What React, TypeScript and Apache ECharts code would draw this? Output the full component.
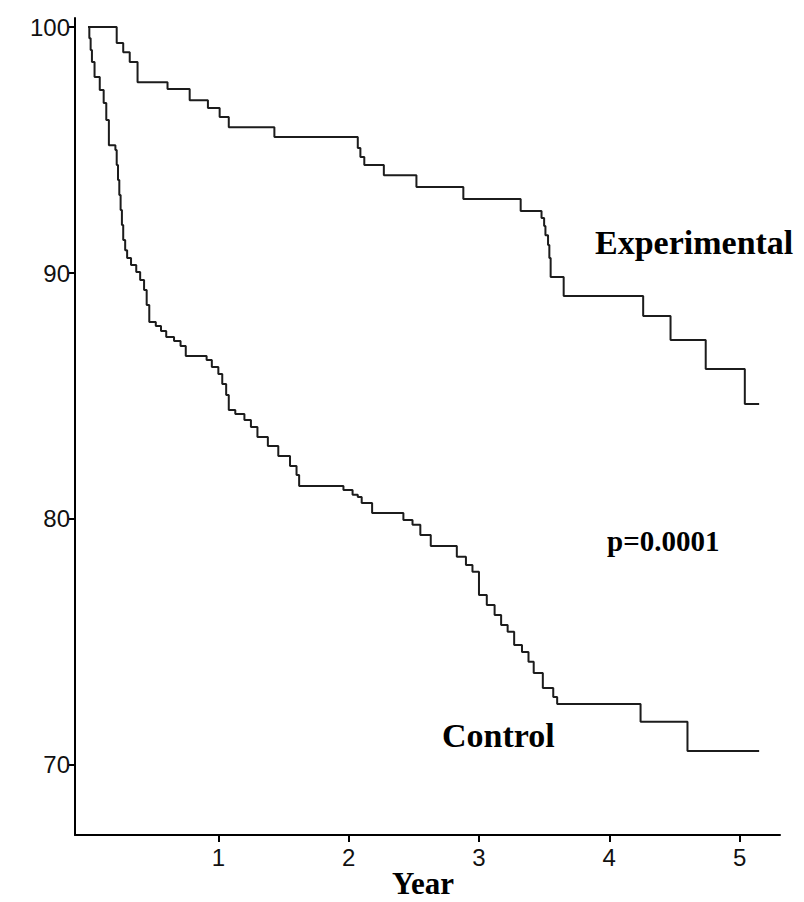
import React, { useEffect, useRef } from "react";
import * as echarts from "echarts";

// Kaplan–Meier estimates (years, % event-free)
const experimentalTimes = [0, 0.22, 0.27, 0.32, 0.38, 0.61, 0.78, 0.92, 1.01, 1.08, 1.43, 2.07, 2.09, 2.12, 2.27, 2.52, 2.88, 3.32, 3.48, 3.5, 3.51, 3.53, 3.54, 3.55, 3.65, 4.26, 4.47, 4.74, 5.04, 5.15];
const experimentalSurvival = [100, 99.35, 98.98, 98.58, 97.76, 97.48, 97.03, 96.71, 96.34, 95.93, 95.53, 95.08, 94.72, 94.39, 93.98, 93.5, 93.01, 92.52, 92.24, 91.91, 91.54, 91.14, 90.61, 89.84, 89.07, 88.25, 87.28, 86.1, 84.67, 84.67];

const controlTimes = [0, 0.01, 0.02, 0.03, 0.05, 0.09, 0.12, 0.14, 0.16, 0.21, 0.22, 0.23, 0.24, 0.25, 0.26, 0.27, 0.285, 0.3, 0.33, 0.37, 0.4, 0.43, 0.45, 0.47, 0.52, 0.56, 0.6, 0.66, 0.71, 0.75, 0.91, 0.95, 1.0, 1.03, 1.06, 1.08, 1.13, 1.2, 1.25, 1.3, 1.38, 1.46, 1.55, 1.6, 1.62, 1.96, 2.03, 2.07, 2.1, 2.18, 2.42, 2.49, 2.55, 2.63, 2.83, 2.9, 2.95, 3.0, 3.06, 3.12, 3.17, 3.22, 3.27, 3.33, 3.38, 3.42, 3.49, 3.57, 3.6, 4.24, 4.6, 5.15];
const controlSurvival = [100, 99.55, 99.07, 98.58, 97.97, 97.44, 96.91, 96.22, 95.2, 95.0, 94.39, 93.78, 93.17, 92.56, 91.95, 91.34, 90.93, 90.61, 90.33, 90.04, 89.72, 89.31, 88.7, 88.01, 87.85, 87.64, 87.4, 87.24, 87.03, 86.63, 86.46, 86.18, 85.89, 85.49, 85.04, 84.43, 84.27, 84.02, 83.74, 83.33, 82.97, 82.56, 82.15, 81.79, 81.34, 81.18, 80.98, 80.89, 80.65, 80.24, 79.96, 79.76, 79.35, 78.9, 78.46, 78.13, 77.85, 76.91, 76.5, 76.1, 75.69, 75.41, 74.88, 74.59, 74.19, 73.74, 73.13, 72.76, 72.48, 71.75, 70.57, 70.57];

const xTicks = [1, 2, 3, 4, 5];
const yTicks = [70, 80, 90, 100];
const xAxisTitle = "Year";

const annotations = [
  { text: "Experimental", x: 595, y: 242, size: 34, align: "left" },
  { text: "p=0.0001", x: 607, y: 541, size: 29, align: "left" },
  { text: "Control", x: 442, y: 735, size: 34, align: "left" },
  { text: xAxisTitle, x: 423, y: 883, size: 31, align: "center" },
];

export default function App() {
  const ref = useRef<HTMLDivElement>(null);

  useEffect(() => {
    if (!ref.current) return;
    const chart = echarts.init(ref.current, null, { renderer: "svg" });
    const expData = experimentalTimes.map((t, i) => [t, experimentalSurvival[i]]);
    const ctlData = controlTimes.map((t, i) => [t, controlSurvival[i]]);
    const lineColor = "#1c1c1c";
    chart.setOption({
      animation: false,
      backgroundColor: "#ffffff",
      grid: { left: 75, right: 24, top: 18, bottom: 67, containLabel: false, outerBoundsMode: "none" },
      xAxis: {
        type: "value",
        min: -0.1,
        max: 5.31,
        axisLine: { show: true, onZero: false, lineStyle: { color: "#000", width: 2 } },
        axisTick: { show: true, customValues: xTicks, length: 7, lineStyle: { color: "#000", width: 2 } },
        axisLabel: { customValues: xTicks, fontSize: 24, color: "#111", fontFamily: "Liberation Sans", margin: 10 },
        splitLine: { show: false },
      },
      yAxis: {
        type: "value",
        min: 67.15,
        max: 100.37,
        axisLine: { show: true, onZero: false, lineStyle: { color: "#000", width: 2 } },
        axisTick: { show: true, customValues: yTicks, length: 6, lineStyle: { color: "#000", width: 2 } },
        axisLabel: { customValues: yTicks, fontSize: 24, color: "#111", fontFamily: "Liberation Sans", margin: 5 },
        splitLine: { show: false },
      },
      series: [
        {
          name: "Experimental",
          type: "line",
          step: "end",
          data: expData,
          showSymbol: false,
          symbol: "none",
          lineStyle: { color: lineColor, width: 2 },
        },
        {
          name: "Control",
          type: "line",
          step: "end",
          data: ctlData,
          showSymbol: false,
          symbol: "none",
          lineStyle: { color: lineColor, width: 2 },
        },
      ],
      graphic: annotations.map((a) => ({
        type: "text",
        x: a.x,
        y: a.y,
        style: {
          text: a.text,
          fill: "#000",
          font: `bold ${a.size}px "Liberation Serif"`,
          textAlign: a.align,
          textVerticalAlign: "middle",
        },
      })),
    });
    return () => chart.dispose();
  }, []);

  return (
    <div
      ref={ref}
      style={{ position: "fixed", left: 0, top: 0, width: 804, height: 902, background: "#fff" }}
    />
  );
}
